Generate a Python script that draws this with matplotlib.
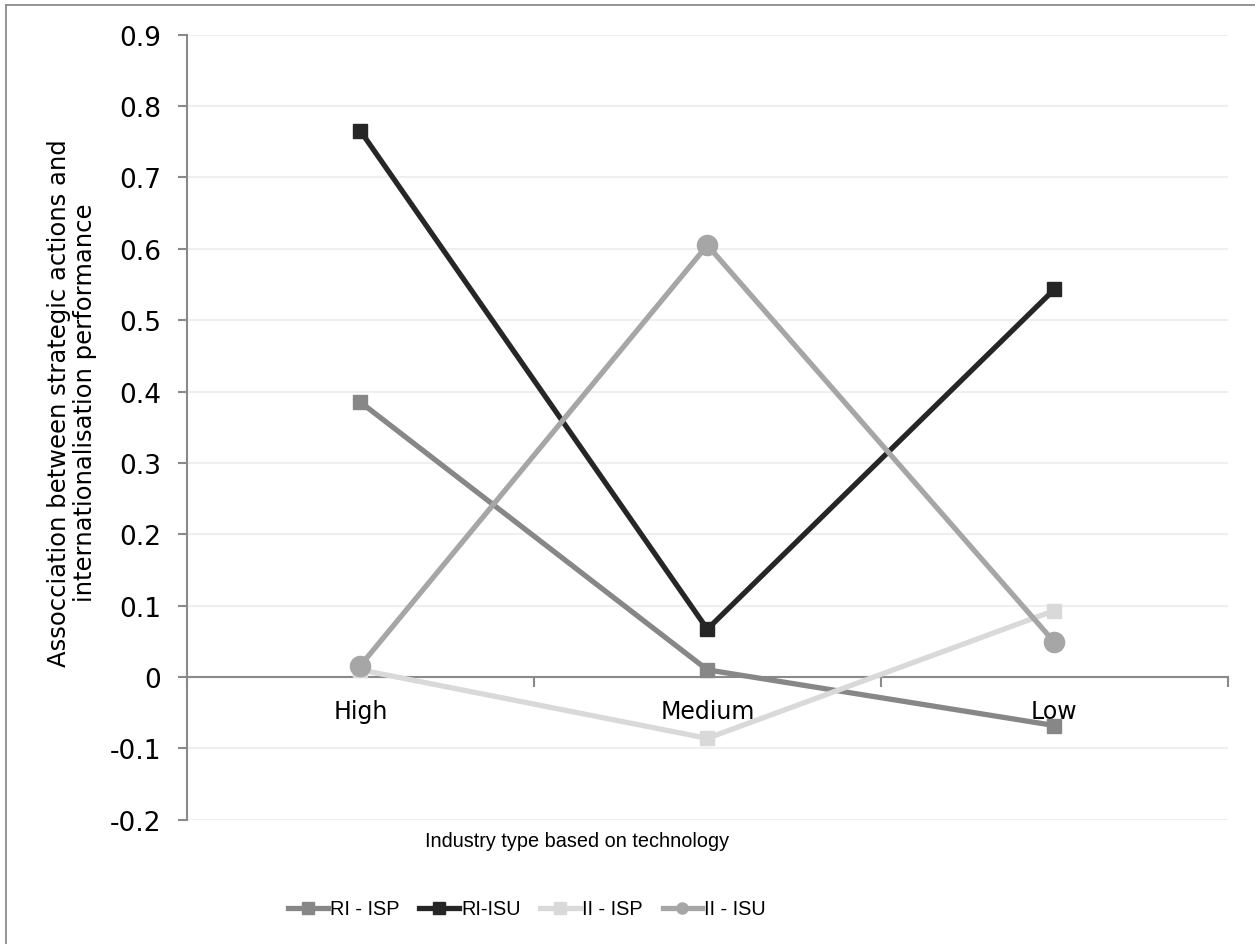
import matplotlib
matplotlib.use("Agg")
import matplotlib.pyplot as plt
from matplotlib.lines import Line2D
from matplotlib import font_manager

categories = ["High", "Medium", "Low"]
ri_isp = [0.385, 0.010, -0.068]
ri_isu = [0.765, 0.067, 0.543]
ii_isp = [0.010, -0.086, 0.093]
ii_isu = [0.016, 0.605, 0.049]
yticks = [-0.2, -0.1, 0, 0.1, 0.2, 0.3, 0.4, 0.5, 0.6, 0.7, 0.8, 0.9]
ytick_labels = ["-0.2", "-0.1", "0", "0.1", "0.2", "0.3", "0.4", "0.5", "0.6", "0.7", "0.8", "0.9"]

names = {f.name for f in font_manager.fontManager.ttflist}
if "DejaVu Sans Condensed" in names:
    narrow, nsize = "DejaVu Sans Condensed", 14.5
elif "Liberation Sans Narrow" in names:
    narrow, nsize = "Liberation Sans Narrow", 16
else:
    narrow, nsize = "Liberation Sans", 14.3

W, H = 1255, 945
fig = plt.figure(figsize=(W / 100, H / 100), dpi=100)
ax = fig.add_axes([187 / W, 1 - 820.7 / H, (1227.7 - 187) / W, (820.7 - 35.7) / H])

x = list(range(len(categories)))
series = [
    ("RI - ISP", ri_isp, "#878787", "s", 10.5),
    ("RI-ISU", ri_isu, "#262626", "s", 10.5),
    ("II - ISP", ii_isp, "#d9d9d9", "s", 10.5),
    ("II - ISU", ii_isu, "#a6a6a6", "o", 14.5),
]
handles = []
for name, vals, col, mk, ms in series:
    h, = ax.plot(x, vals, color=col, lw=3.8, marker=mk, markersize=ms,
                 markerfacecolor=col, markeredgecolor=col, label=name,
                 solid_joinstyle="miter", zorder=3)
    handles.append(h)

ax.set_xlim(-0.5, 2.5)
ax.set_ylim(-0.2, 0.9)
ax.set_yticks(yticks)
ax.set_yticklabels(ytick_labels, fontsize=19)
ax.yaxis.grid(True, color="#efefef", lw=1.5, zorder=0)
ax.set_axisbelow(True)

for s in ["top", "right"]:
    ax.spines[s].set_visible(False)
ax.spines["left"].set_color("#8a8a8a")
ax.spines["left"].set_linewidth(1.5)
ax.spines["bottom"].set_position(("data", 0))
ax.spines["bottom"].set_color("#8a8a8a")
ax.spines["bottom"].set_linewidth(1.5)

ax.set_xticks([-0.5, 0.5, 1.5, 2.5])
ax.set_xticklabels([])
ax.set_xticks(x, minor=True)
ax.set_xticklabels(categories, minor=True, fontsize=17)
ax.tick_params(axis="x", which="major", direction="out", length=7, width=1.5, color="#8a8a8a")
ax.tick_params(axis="x", which="minor", length=0, pad=16)
ax.tick_params(axis="y", direction="out", length=6.5, width=1.5, color="#8a8a8a", pad=12)

fig.text(72 / W, 1 - 403 / H,
         "Assocciation between strategic actions and\ninternationalisation performance",
         rotation=90, ha="center", va="center", multialignment="center",
         fontsize=17.5, linespacing=1.15)
fig.text(577 / W, 1 - 842 / H, "Industry type based on technology",
         ha="center", va="center", fontsize=nsize, family=narrow)

leg = fig.legend(handles=handles, loc="center", bbox_to_anchor=(527 / W, 1 - 910 / H),
                 ncol=4, frameon=False, handlelength=2.0, handletextpad=0.1,
                 columnspacing=1.0, prop={"family": narrow, "size": nsize})
for lh in leg.legend_handles:
    lh.set_markersize(8)

fig.add_artist(Line2D([6 / W, 6 / W], [0, 1 - 6 / H], color="#8c8c8c", lw=1.3, transform=fig.transFigure))
fig.add_artist(Line2D([6 / W, 1], [1 - 6 / H, 1 - 6 / H], color="#8c8c8c", lw=1.3, transform=fig.transFigure))

fig.savefig("out.png", dpi=100, facecolor="white")
